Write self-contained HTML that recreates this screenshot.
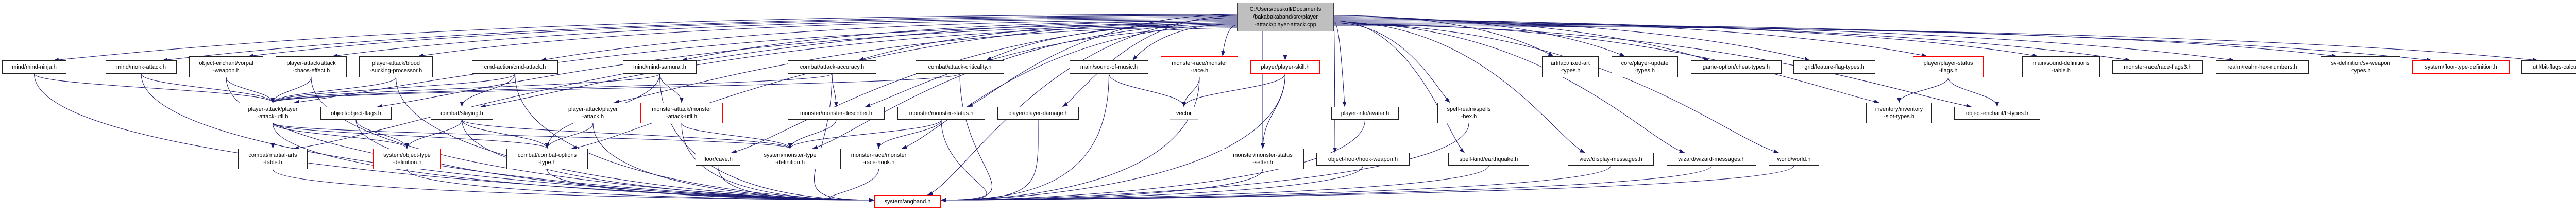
<!DOCTYPE html>
<html><head><meta charset="utf-8">
<style>
html,body{margin:0;padding:0;background:#fff;}
#c{position:relative;width:5059px;height:409px;overflow:hidden;background:#fff;font-family:"Liberation Sans",Arial,sans-serif;}
svg{position:absolute;left:0;top:0;}
.n{position:absolute;box-sizing:border-box;border:1.5px solid #222;background:#fff;font-size:11px;line-height:14px;color:#000;display:flex;align-items:center;justify-content:center;text-align:center;white-space:nowrap;overflow:visible;}
.r{border-color:#ff0000;}
.g{border-color:#bfbfbf;}
.t{background:#bfbfbf;border-color:#404040;}
</style></head><body>
<div id="c">
<svg id="s" width="5059" height="409" viewBox="0 0 5059 409">
<defs><marker id="a" markerWidth="10" markerHeight="8" refX="10" refY="4" orient="auto" markerUnits="userSpaceOnUse"><path d="M0,0 L10,4 L0,8 z" fill="#191970"/></marker></defs>
<g id="e" fill="none" stroke="#191970" stroke-width="1"></g>
</svg>
<div class="n t" style="left:2401px;top:5px;width:188px;height:56px;line-height:15px">C:/Users/deskull/Documents<br>/bakabakaband/src/player<br>-attack/player-attack.cpp</div>
<div class="n" style="left:4px;top:117px;width:125px;height:26px">mind/mind-ninja.h</div>
<div class="n" style="left:205px;top:117px;width:138px;height:26px">mind/monk-attack.h</div>
<div class="n" style="left:367px;top:109px;width:144px;height:41px">object-enchant/vorpal<br>-weapon.h</div>
<div class="n" style="left:535px;top:109px;width:138px;height:41px">player-attack/attack<br>-chaos-effect.h</div>
<div class="n" style="left:697px;top:109px;width:143px;height:41px">player-attack/blood<br>-sucking-processor.h</div>
<div class="n" style="left:916px;top:117px;width:167px;height:26px">cmd-action/cmd-attack.h</div>
<div class="n" style="left:1209px;top:117px;width:143px;height:26px">mind/mind-samurai.h</div>
<div class="n" style="left:1529px;top:117px;width:172px;height:26px">combat/attack-accuracy.h</div>
<div class="n" style="left:1777px;top:117px;width:172px;height:26px">combat/attack-criticality.h</div>
<div class="n" style="left:2076px;top:117px;width:153px;height:26px">main/sound-of-music.h</div>
<div class="n r" style="left:2253px;top:109px;width:150px;height:41px">monster-race/monster<br>-race.h</div>
<div class="n r" style="left:2427px;top:117px;width:135px;height:26px">player/player-skill.h</div>
<div class="n" style="left:2993px;top:109px;width:110px;height:41px">artifact/fixed-art<br>-types.h</div>
<div class="n" style="left:3128px;top:109px;width:129px;height:41px">core/player-update<br>-types.h</div>
<div class="n" style="left:3282px;top:117px;width:176px;height:26px">game-option/cheat-types.h</div>
<div class="n" style="left:3481px;top:117px;width:159px;height:26px">grid/feature-flag-types.h</div>
<div class="n r" style="left:3713px;top:109px;width:137px;height:41px">player/player-status<br>-flags.h</div>
<div class="n" style="left:3925px;top:109px;width:151px;height:41px">main/sound-definitions<br>-table.h</div>
<div class="n" style="left:4100px;top:117px;width:176px;height:26px">monster-race/race-flags3.h</div>
<div class="n" style="left:4301px;top:117px;width:180px;height:26px">realm/realm-hex-numbers.h</div>
<div class="n" style="left:4505px;top:109px;width:154px;height:41px">sv-definition/sv-weapon<br>-types.h</div>
<div class="n r" style="left:4682px;top:117px;width:189px;height:26px">system/floor-type-definition.h</div>
<div class="n" style="left:4894px;top:117px;width:159px;height:26px">util/bit-flags-calculator.h</div>
<div class="n r" style="left:461px;top:199px;width:137px;height:40px">player-attack/player<br>-attack-util.h</div>
<div class="n" style="left:622px;top:207px;width:138px;height:25px">object/object-flags.h</div>
<div class="n" style="left:836px;top:207px;width:121px;height:25px">combat/slaying.h</div>
<div class="n" style="left:1083px;top:199px;width:136px;height:40px">player-attack/player<br>-attack.h</div>
<div class="n r" style="left:1243px;top:199px;width:160px;height:40px">monster-attack/monster<br>-attack-util.h</div>
<div class="n" style="left:1529px;top:207px;width:188px;height:25px">monster/monster-describer.h</div>
<div class="n" style="left:1742px;top:207px;width:170px;height:25px">monster/monster-status.h</div>
<div class="n" style="left:1936px;top:207px;width:158px;height:25px">player/player-damage.h</div>
<div class="n g" style="left:2270px;top:207px;width:56px;height:25px">vector</div>
<div class="n" style="left:2584px;top:207px;width:131px;height:25px">player-info/avatar.h</div>
<div class="n" style="left:2790px;top:199px;width:122px;height:40px">spell-realm/spells<br>-hex.h</div>
<div class="n" style="left:3622px;top:199px;width:128px;height:40px">inventory/inventory<br>-slot-types.h</div>
<div class="n" style="left:3793px;top:207px;width:167px;height:25px">object-enchant/tr-types.h</div>
<div class="n" style="left:462px;top:288px;width:135px;height:40px">combat/martial-arts<br>-table.h</div>
<div class="n r" style="left:724px;top:288px;width:132px;height:40px">system/object-type<br>-definition.h</div>
<div class="n" style="left:983px;top:288px;width:158px;height:40px">combat/combat-options<br>-type.h</div>
<div class="n" style="left:1350px;top:296px;width:87px;height:25px">floor/cave.h</div>
<div class="n r" style="left:1461px;top:288px;width:145px;height:40px">system/monster-type<br>-definition.h</div>
<div class="n" style="left:1631px;top:288px;width:149px;height:40px">monster-race/monster<br>-race-hook.h</div>
<div class="n" style="left:2371px;top:288px;width:160px;height:40px">monster/monster-status<br>-setter.h</div>
<div class="n" style="left:2555px;top:296px;width:181px;height:25px">object-hook/hook-weapon.h</div>
<div class="n" style="left:2811px;top:296px;width:157px;height:25px">spell-kind/earthquake.h</div>
<div class="n" style="left:3043px;top:296px;width:167px;height:25px">view/display-messages.h</div>
<div class="n" style="left:3235px;top:296px;width:174px;height:25px">wizard/wizard-messages.h</div>
<div class="n" style="left:3433px;top:296px;width:98px;height:25px">world/world.h</div>
<div class="n r" style="left:1697px;top:378px;width:129px;height:25px">system/angband.h</div>
</div>
<script>
var N={ninja:[4,117,129,143],monk:[205,117,343,143],vorpal:[367,109,511,150],chaos:[535,109,673,150],blood:[697,109,840,150],cmd:[916,117,1083,143],sam:[1209,117,1352,143],acc:[1529,117,1701,143],crit:[1777,117,1949,143],som:[2076,117,2229,143],mrace:[2253,109,2403,150],skill:[2427,117,2562,143],fixart:[2993,109,3103,150],pupd:[3128,109,3257,150],cheat:[3282,117,3458,143],ffl:[3481,117,3640,143],psf:[3713,109,3850,150],sdef:[3925,109,4076,150],rf3:[4100,117,4276,143],rhex:[4301,117,4481,143],svw:[4505,109,4659,150],ftd:[4682,117,4871,143],bfc:[4894,117,5053,143],
pau:[461,199,598,239],ofl:[622,207,760,232],slay:[836,207,957,232],pa:[1083,199,1219,239],mau:[1243,199,1403,239],mdesc:[1529,207,1717,232],mstat:[1742,207,1912,232],pdmg:[1936,207,2094,232],vec:[2270,207,2326,232],avatar:[2584,207,2715,232],hex:[2790,199,2912,239],inv:[3622,199,3750,239],tr:[3793,207,3960,232],
mart:[462,288,597,328],otd:[724,288,856,328],cot:[983,288,1141,328],cave:[1350,296,1437,321],mtd:[1461,288,1606,328],mrh:[1631,288,1780,328],mss:[2371,288,2531,328],hookw:[2555,296,2736,321],eq:[2811,296,2968,321],disp:[3043,296,3210,321],wiz:[3235,296,3409,321],world:[3433,296,3531,321],ang:[1697,378,1826,403]};
var g=document.getElementById('e'),out='';
function P(d){out+='<path d="'+d+'" marker-end="url(#a)"/>';}
var topT=['ninja','monk','vorpal','chaos','blood','cmd','sam','acc','crit','som','mrace','skill','fixart','pupd','cheat','ffl','psf','sdef','rf3','rhex','svw','ftd','bfc','pau','ofl','slay','pa','mdesc','mstat','pdmg','avatar','hex','inv','tr','mart','cot','cave','mtd','mrh','mss','hookw','eq','disp','wiz','world','ang'];
topT.forEach(function(k,i){var t=N[k],cx=(t[0]+t[2])/2,ex=cx+(t[2]-t[0])*0.25,ey=t[1],sx,sy;
 if(cx<2380){sx=2401;sy=28+(i%14)*2;ex=cx+(t[2]-t[0])*0.3;P('M'+sx+','+sy+' C'+(sx-(sx-ex)*0.6)+','+sy+' '+(ex+(sx-ex)*0.12)+','+(ey-28)+' '+ex+','+ey);}
 else if(cx>2610){sx=2589;sy=30+(i%12)*2;ex=cx-(t[2]-t[0])*0.3;P('M'+sx+','+sy+' C'+(sx+(ex-sx)*0.6)+','+sy+' '+(ex-(ex-sx)*0.12)+','+(ey-28)+' '+ex+','+ey);}
 else {sx=Math.min(Math.max(cx,2420),2575);sy=61;P('M'+sx+','+sy+' C'+sx+','+(sy+(ey-sy)*0.5)+' '+cx+','+(ey-(ey-sy)*0.4)+' '+cx+','+ey);}
});
function E(a,b){var s=N[a],t=N[b],sx=(s[0]+s[2])/2,sy=s[3],ex,ey;
 if(b=='ang'){ey=388;if(sx<1760){ex=1697;P('M'+sx+','+sy+' C'+sx+','+(sy+(ey-sy)*0.8)+' '+(ex-200)+','+ey+' '+ex+','+ey);}else{ex=1826;P('M'+sx+','+sy+' C'+sx+','+(sy+(ey-sy)*0.8)+' '+(ex+200)+','+ey+' '+ex+','+ey);}return;}
 ex=(t[0]+t[2])/2;ey=t[1];if(t[1]<s[1]){return;}
 P('M'+sx+','+sy+' C'+sx+','+(sy+(ey-sy)*0.45)+' '+ex+','+(ey-(ey-sy)*0.45)+' '+ex+','+ey);}
[['ninja','pau'],['monk','pau'],['vorpal','pau'],['chaos','pau'],['blood','pau'],['cmd','pau'],['sam','pau'],['acc','pau'],['crit','pau'],['pdmg','pau'],['mstat','pau'],
['sam','mau'],['sam','cot'],['acc','mdesc'],['som','vec'],['mrace','vec'],['skill','vec'],['skill','mss'],
['pau','mart'],['pau','otd'],['pau','cot'],['pau','mtd'],['ofl','otd'],['slay','otd'],['slay','cot'],['slay','mtd'],['pa','cot'],['mau','mtd'],['mdesc','mtd'],['mstat','mtd'],['mstat','mrh'],['cmd','slay'],
['psf','inv'],['psf','tr'],
['ninja','ang'],['monk','ang'],['vorpal','ang'],['chaos','ang'],['blood','ang'],['cmd','ang'],['sam','ang'],['acc','ang'],['crit','ang'],['som','ang'],['mrace','ang'],['skill','ang'],
['pau','ang'],['ofl','ang'],['slay','ang'],['pa','ang'],['mau','ang'],['mstat','ang'],['pdmg','ang'],['avatar','ang'],['hex','ang'],
['mart','ang'],['otd','ang'],['cot','ang'],['cave','ang'],['mrh','ang'],['mss','ang'],['hookw','ang'],['eq','ang'],['disp','ang'],['wiz','ang'],['world','ang']].forEach(function(p){E(p[0],p[1]);});
g.innerHTML=out;
</script>
</body></html>
